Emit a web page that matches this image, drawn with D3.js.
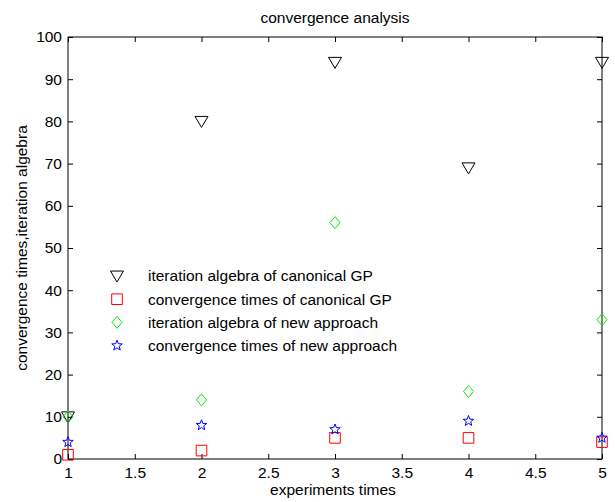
<!DOCTYPE html>
<html>
<head>
<meta charset="utf-8">
<script src="https://cdn.jsdelivr.net/npm/d3@7"></script>
<style>
  body { margin: 0; background: #fff; }
  text { font-family: "Liberation Sans", Arial, sans-serif; fill: #000; }
</style>
</head>
<body>
<svg id="chart" width="615" height="502"></svg>
<script>
let experiments = [1, 2, 3, 4, 5]
let iterCanonical = [10, 80, 94, 69, 94]
let convCanonical = [1, 2, 5, 5, 4]
let iterNew = [10, 14, 56, 16, 33]
let convNew = [4, 8, 7, 9, 5]
let xTicks = [1, 1.5, 2, 2.5, 3, 3.5, 4, 4.5, 5]
let yTicks = [0, 10, 20, 30, 40, 50, 60, 70, 80, 90, 100]
let legendLabels = [
    'iteration algebra of canonical GP',
    'convergence times of canonical GP',
    'iteration algebra of new approach',
    'convergence times of new approach'
]

let box = { left: 68, right: 602, top: 37, bottom: 459 }
let fontSize = 15.5
let svg = d3.select('#chart')

let x = d3.scaleLinear().domain([1, 5]).range([box.left, box.right])
let y = d3.scaleLinear().domain([0, 100]).range([box.bottom, box.top])

// marker paths, centered on 0,0
function triDown(w, h) {
    return `M${-w},${-h * 0.45}L${w},${-h * 0.45}L0,${h * 0.55}Z`
}
function square(s) {
    return `M${-s},${-s}H${s}V${s}H${-s}Z`
}
function diamond(w, h) {
    return `M0,${-h}L${w},0L0,${h}L${-w},0Z`
}
function star(s) {
    let pts = []
    for (let i = 0; i < 10; i++) {
        let r = i % 2 === 0 ? s : s * 0.42
        let a = -Math.PI / 2 + i * Math.PI / 5
        pts.push([r * Math.cos(a), r * Math.sin(a)])
    }
    return 'M' + pts.map(p => p.join(',')).join('L') + 'Z'
}

let series = [
    { values: iterCanonical, path: triDown(6.5, 11), color: '#000' },
    { values: convCanonical, path: square(5.3), color: '#ff0000' },
    { values: iterNew, path: diamond(5, 6), color: '#00ee00' },
    { values: convNew, path: star(5.5), color: '#0000ff' }
]

// axes box with inward ticks on all sides
let tl = 5
svg.append('g')
    .attr('transform', `translate(0,${box.bottom})`)
    .call(d3.axisBottom(x).tickValues(xTicks).tickSize(-tl).tickPadding(8)
        .tickFormat(d => d3.format('')(d)))
    .call(g => g.select('.domain').remove())
svg.append('g')
    .attr('transform', `translate(0,${box.top})`)
    .call(d3.axisTop(x).tickValues(xTicks).tickSize(-tl).tickFormat(''))
    .call(g => g.select('.domain').remove())
svg.append('g')
    .attr('transform', `translate(${box.left},0)`)
    .call(d3.axisLeft(y).tickValues(yTicks).tickSize(-tl).tickPadding(6))
    .call(g => g.select('.domain').remove())
svg.append('g')
    .attr('transform', `translate(${box.right},0)`)
    .call(d3.axisRight(y).tickValues(yTicks).tickSize(-tl).tickFormat(''))
    .call(g => g.select('.domain').remove())

svg.selectAll('.tick text').attr('font-size', fontSize).attr('font-family', '"Liberation Sans", Arial, sans-serif')
svg.selectAll('.tick line').attr('stroke', '#000')

svg.append('rect')
    .attr('x', box.left).attr('y', box.top)
    .attr('width', box.right - box.left).attr('height', box.bottom - box.top)
    .attr('fill', 'none').attr('stroke', '#000').attr('stroke-width', 1)

// markers
series.forEach(s => {
    svg.append('g').selectAll('path')
        .data(s.values)
        .enter().append('path')
        .attr('d', s.path)
        .attr('transform', (d, i) => `translate(${x(experiments[i])},${y(d)})`)
        .attr('fill', 'none')
        .attr('stroke', s.color)
        .attr('stroke-width', 1)
})

// legend (no box)
let legend = svg.append('g').selectAll('g')
    .data(legendLabels)
    .enter().append('g')
    .attr('transform', (d, i) => `translate(117,${276 + i * 23.2})`)
legend.append('path')
    .attr('d', (d, i) => series[i].path)
    .attr('fill', 'none')
    .attr('stroke', (d, i) => series[i].color)
legend.append('text')
    .attr('x', 31).attr('dy', '0.35em')
    .attr('font-size', fontSize)
    .text(d => d)

// titles
svg.append('text')
    .attr('x', 335).attr('y', 23)
    .attr('text-anchor', 'middle').attr('font-size', fontSize)
    .text('convergence analysis')
svg.append('text')
    .attr('x', 333).attr('y', 495)
    .attr('text-anchor', 'middle').attr('font-size', fontSize)
    .text('experiments times')
svg.append('text')
    .attr('transform', 'translate(27,248) rotate(-90)')
    .attr('text-anchor', 'middle').attr('font-size', fontSize)
    .text('convergence times,iteration algebra')
</script>
</body>
</html>
